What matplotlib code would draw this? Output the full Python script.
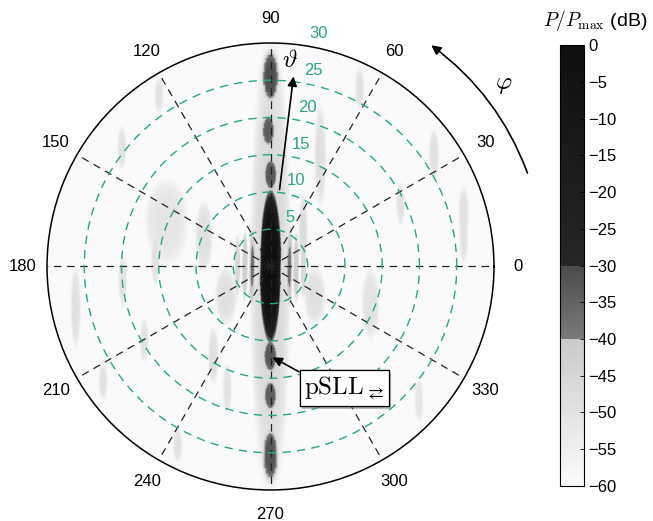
import numpy as np
import matplotlib
matplotlib.use('Agg')
import matplotlib.pyplot as plt
from matplotlib.colors import LinearSegmentedColormap, Normalize
from matplotlib.cm import ScalarMappable
from matplotlib import patheffects

plt.rcParams['font.family'] = ['Liberation Sans', 'DejaVu Sans']
plt.rcParams['mathtext.fontset'] = 'cm'

# ---------------- data ----------------
phi_ticks = [0, 30, 60, 90, 120, 150, 180, 210, 240, 270, 300, 330]
theta_rings = [5, 10, 15, 20, 25]
theta_labels = [5, 10, 15, 20, 25, 30]
theta_max = 30

cbar_ticks = [0, -5, -10, -15, -20, -25, -30, -35, -40, -45, -50, -55, -60]
db_floor = -60
db_background = -59.5

# lobes of the normalised power pattern (u = theta*cos(phi), v = theta*sin(phi), degrees)
lobe_u = [0.0,
          0.0, -0.3, 0.0, 0.0, 0.0, 0.0,
          2.6, -2.5, 3.5, -3.5, 4.5, -4.5,
          0.0,
          -26.2, -19.9, -15.5, -14.0, -15.0, -17.0, -22.5, -7.7, -12.5, -5.8,
          6.7, 12.0, 22.0, 26.0, 17.5, 4.4, 13.5, 6.0, -6.0, -9.0, 26.0, -20.0, 20.0]
lobe_v = [0.0,
          12.4, 18.3, 25.6, -12.1, -17.4, -25.4,
          0.0, 0.0, 0.0, 0.0, 0.0, 0.0,
          0.0,
          -5.5, -2.0, 1.2, 6.0, 23.0, -10.0, -15.5, -12.0, -24.0, -16.5,
          15.0, 24.0, 15.0, 7.0, 8.5, 5.0, -5.0, -4.0, -4.0, 4.0, 3.5, 16.0, -18.0]
lobe_peak = [0.0,
             -33, -34, -31, -33, -34, -32,
             -39, -39, -42, -42, -46, -46,
             -46,
             -49, -50, -50, -51, -50, -50, -50, -49, -50, -50,
             -49, -50, -49, -50, -50, -48, -50, -49, -49, -49, -50, -50, -51]
lobe_ru = [1.6,
           1.0, 1.0, 1.25, 1.05, 1.0, 1.2,
           0.45, 0.45, 0.4, 0.4, 0.4, 0.4,
           2.8,
           0.7, 0.6, 0.6, 3.0, 0.6, 0.6, 0.6, 0.7, 0.6, 0.6,
           0.8, 0.6, 0.7, 0.7, 0.6, 0.6, 1.2, 1.5, 1.5, 1.2, 0.6, 0.6, 0.6]
lobe_rv = [11.4,
           2.5, 2.5, 3.9, 2.6, 2.4, 4.0,
           6.0, 6.0, 5.0, 5.0, 4.5, 4.5,
           32.0,
           5.5, 3.5, 4.0, 6.0, 2.5, 3.0, 2.5, 4.0, 2.5, 3.5,
           7.0, 3.0, 3.5, 4.0, 3.0, 5.0, 5.0, 4.0, 4.0, 5.0, 3.0, 3.0, 3.0]

# ---------------- build field ----------------
th = np.linspace(0, 2 * np.pi, 721)
rr = np.linspace(0, theta_max, 301)
TH, RR = np.meshgrid(th, rr)
U = RR * np.cos(TH)
V = RR * np.sin(TH)
Z = np.full_like(U, db_background)
for u0, v0, pk, ru, rv in zip(lobe_u, lobe_v, lobe_peak, lobe_ru, lobe_rv):
    d2 = ((U - u0) / ru) ** 2 + ((V - v0) / rv) ** 2
    Z = np.maximum(Z, pk - (pk - db_floor) * d2 ** 2)
Z = np.clip(Z, db_floor, 0)

# ---------------- colormap ----------------
seg = [(0.0, 0.985, 0.985), (1/3, 0.79, 0.48), (0.5, 0.29, 0.15), (1.0, 0.06, 0.06)]
cmap = LinearSegmentedColormap('pattern', {'red': seg, 'green': seg, 'blue': seg}, N=512)
norm = Normalize(vmin=db_floor, vmax=0)

green = '#26a884'

fig = plt.figure(figsize=(6.53, 5.21), dpi=100)
ax = fig.add_axes([0.0720, 0.0595, 0.6845, 0.858], projection='polar')
ax.pcolormesh(TH, RR, Z, cmap=cmap, norm=norm, shading='gouraud', zorder=0, rasterized=True)
ax.set_ylim(0, theta_max)
ax.set_axisbelow(False)

ax.set_thetagrids(phi_ticks, labels=[str(p) for p in phi_ticks], fontsize=12)
ax.tick_params(axis='x', pad=7)
ax.set_yticks(theta_rings)
ax.set_yticklabels([])
ax.xaxis.grid(True, color='#222222', lw=0.9, ls=(0, (6, 4.5)))
ax.yaxis.grid(True, color=green, lw=1.0, ls=(0, (6, 4.5)))
ax.spines['polar'].set_linewidth(1.1)

for r in theta_labels:
    ax.annotate(str(r), xy=(np.deg2rad(81), r), xytext=(13.5, 12), textcoords='offset pixels',
                ha='center', va='center', color=green, fontsize=12, annotation_clip=False)

# theta arrow
ax.annotate('', xy=(np.deg2rad(83.1), 25.7), xytext=(np.deg2rad(83.3), 10.4),
            arrowprops=dict(arrowstyle='-|>', color='k', lw=1.2, mutation_scale=14,
                            shrinkA=0, shrinkB=0))
ax.text(np.deg2rad(84.7), 27.8, r'$\vartheta$', fontsize=18, ha='center', va='center')

# phi arrow (outside)
ax.annotate('', xy=(np.deg2rad(54), 36.7), xytext=(np.deg2rad(20), 36.7),
            arrowprops=dict(arrowstyle='-|>', color='k', lw=1.2, mutation_scale=14,
                            shrinkA=0, shrinkB=0, connectionstyle='arc3,rad=0.15'),
            annotation_clip=False)
ax.text(np.deg2rad(38), 39.7, r'$\varphi$', fontsize=18, ha='center', va='center', clip_on=False)

# pSLL annotation
ann = ax.annotate(r'$\mathrm{pSLL}_{\rightleftarrows}$', xy=(np.deg2rad(271.3), 12.2),
                  xytext=(0.527, 0.255), textcoords='figure fraction', ha='center', va='center',
                  fontsize=18,
                  bbox=dict(boxstyle='square,pad=0.18', fc='white', ec='k', lw=0.9),
                  arrowprops=dict(arrowstyle='-|>', color='k', lw=1.2, mutation_scale=14,
                                  relpos=(0, 1), shrinkA=0, shrinkB=0))
ann.get_bbox_patch().set_path_effects([
    patheffects.withSimplePatchShadow(offset=(2, -2), shadow_rgbFace='0.5', alpha=0.5),
    patheffects.Normal()])

# colorbar
cax = fig.add_axes([0.8576, 0.0672, 0.0368, 0.8464])
cb = fig.colorbar(ScalarMappable(norm=norm, cmap=cmap), cax=cax, ticks=cbar_ticks)
cb.ax.tick_params(labelsize=12, length=3, direction='in', width=0.6, pad=3)
cb.outline.set_linewidth(0.8)
fig.text(0.911, 0.960, r'$P/P_{\max}$ (dB)', ha='center', va='center', fontsize=14)

fig.savefig('out.png', dpi=100)
